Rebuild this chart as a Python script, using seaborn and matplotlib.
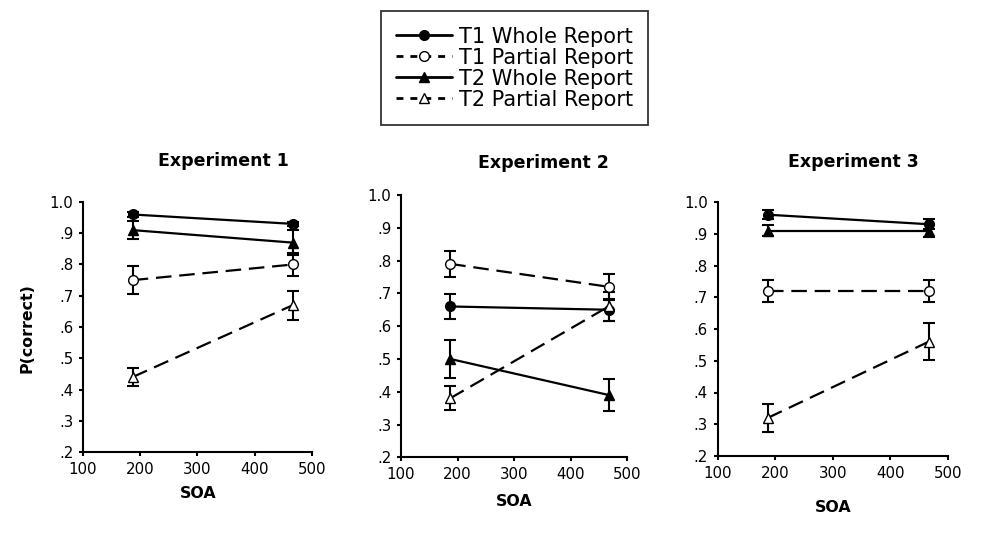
import matplotlib
matplotlib.use("Agg")
import matplotlib.pyplot as plt
import seaborn as sns
import pandas as pd
from matplotlib.ticker import FuncFormatter

# datos
soa = [187, 467]
series = ["T1 Whole Report", "T1 Partial Report", "T2 Whole Report", "T2 Partial Report"]
experiments = ["Experiment 1", "Experiment 2", "Experiment 3"]

# medias por serie (orden de series), SOA 187 y 467
exp1_means = [[0.96, 0.93], [0.75, 0.80], [0.91, 0.87], [0.44, 0.67]]
exp2_means = [[0.66, 0.65], [0.79, 0.72], [0.50, 0.39], [0.38, 0.66]]
exp3_means = [[0.96, 0.93], [0.72, 0.72], [0.91, 0.91], [0.32, 0.56]]

# barras de error
exp1_err = [[0.008, 0.006], [0.044, 0.038], [0.030, 0.040], [0.030, 0.046]]
exp2_err = [[0.038, 0.034], [0.040, 0.040], [0.057, 0.048], [0.037, 0.045]]
exp3_err = [[0.015, 0.015], [0.034, 0.034], [0.016, 0.020], [0.043, 0.058]]

all_means = [exp1_means, exp2_means, exp3_means]
all_err = [exp1_err, exp2_err, exp3_err]

rows = []
for e, exp in enumerate(experiments):
    for s, name in enumerate(series):
        for k, x in enumerate(soa):
            rows.append({"exp": exp, "serie": name, "SOA": x,
                         "p": all_means[e][s][k], "err": all_err[e][s][k]})
df = pd.DataFrame(rows)

markers = ["o", "o", "^", "^"]
faces = ["black", "white", "black", "white"]
styles = ["-", (0, (7, 3.5)), "-", (0, (7, 3.5))]

sns.set_style("ticks")
plt.rcParams["font.family"] = ["DejaVu Sans"]
plt.rcParams["text.color"] = "black"
plt.rcParams["axes.labelcolor"] = "black"

W, H = 986, 538
fig = plt.figure(figsize=(W / 100, H / 100), dpi=100)

# posiciones de los ejes en pixeles (x0, x1, ytop, ybottom)
boxes = [(83, 311.7, 202, 452), (401, 627.3, 195, 457.3), (717.7, 947.7, 202, 456)]
titles_xy = [(223, 161), (543, 163), (853, 162)]
soa_xy = [(198, 494), (514, 501), (833, 508)]

def fx(x):
    return x / W

def fy(y):
    return 1 - y / H

axes = []
for i, (x0, x1, yt, yb) in enumerate(boxes):
    ax = fig.add_axes([fx(x0), fy(yb), (x1 - x0) / W, (yb - yt) / H])
    axes.append(ax)
    sub = df[df["exp"] == experiments[i]]
    for s, name in enumerate(series):
        d = sub[sub["serie"] == name]
        ax.errorbar(d["SOA"], d["p"], yerr=d["err"], fmt="none", ecolor="black",
                    elinewidth=1.5, capsize=4, capthick=1.5, zorder=2)
        sns.lineplot(data=d, x="SOA", y="p", ax=ax, color="black", lw=1.6,
                     linestyle=styles[s], marker=markers[s], markersize=7,
                     markerfacecolor=faces[s], markeredgecolor="black",
                     markeredgewidth=1, label=name, legend=False, zorder=3)
    if ax.get_legend() is not None:
        ax.get_legend().remove()
    ax.set_xlim(100, 500)
    ax.set_ylim(0.2, 1.0)
    ax.set_xticks([100, 200, 300, 400, 500])
    ax.set_yticks([0.2, 0.3, 0.4, 0.5, 0.6, 0.7, 0.8, 0.9, 1.0])
    ax.yaxis.set_major_formatter(FuncFormatter(
        lambda v, p: "1.0" if v > 0.99 else f"{v:.1f}".lstrip("0")))
    ax.set_xlabel("")
    ax.set_ylabel("")
    ax.tick_params(direction="out", length=3, width=1.5, labelsize=10.8,
                   colors="black", pad=4)
    for sp in ["left", "bottom"]:
        ax.spines[sp].set_linewidth(1.5)
        ax.spines[sp].set_color("black")
    sns.despine(ax=ax)
    fig.text(fx(titles_xy[i][0]), fy(titles_xy[i][1]), experiments[i], ha="center",
             va="center", fontsize=12.5, fontweight="bold", color="black")
    fig.text(fx(soa_xy[i][0]), fy(soa_xy[i][1]), "SOA", ha="center", va="center",
             fontsize=11.4, fontweight="bold", color="black")

fig.text(fx(27), fy(328), "P(correct)", ha="center", va="center", rotation=90,
         fontsize=11.4, fontweight="bold", color="black")

handles, labels = axes[0].get_legend_handles_labels()
leg = fig.legend(handles, labels, loc="upper center", bbox_to_anchor=(fx(514.5), fy(11)),
                 frameon=True, fancybox=False, edgecolor="black", fontsize=15,
                 handlelength=2.7, labelspacing=0.05, borderpad=0.75,
                 handletextpad=0.3, borderaxespad=0)
leg.get_frame().set_linewidth(1.3)
for t in leg.get_texts():
    t.set_color("black")
for j, ln in enumerate(leg.get_lines()):
    ln.set_linewidth(2)
    if j % 2 == 1:
        ln.set_dashes((2.5, 2.5))

plt.savefig("out.png", dpi=100)
